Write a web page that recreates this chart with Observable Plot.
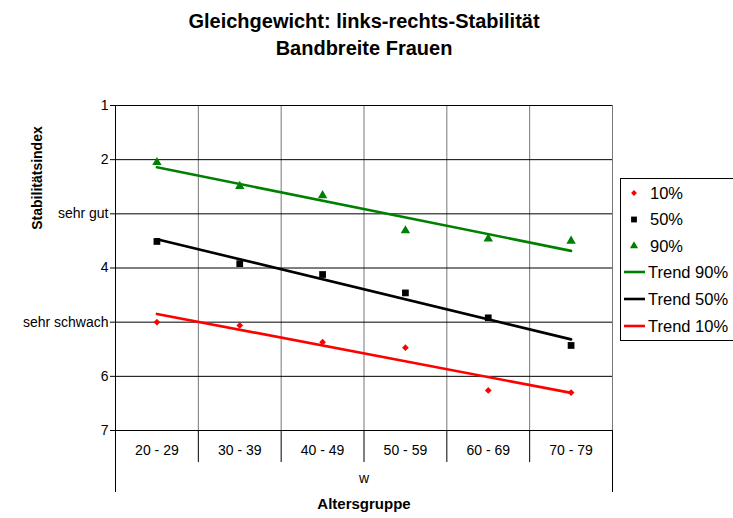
<!DOCTYPE html>
<html>
<head>
<meta charset="utf-8">
<script src="https://cdn.jsdelivr.net/npm/d3@7"></script>
<script src="https://cdn.jsdelivr.net/npm/@observablehq/plot@0.6"></script>
<style>
  html, body { margin: 0; padding: 0; background: #fff; }
</style>
</head>
<body>
<div id="chart"></div>
<script>
// ---- data ----
const ageGroups = ["20 - 29", "30 - 39", "40 - 49", "50 - 59", "60 - 69", "70 - 79"];
const p10 = [5.00, 5.06, 5.37, 5.47, 6.26, 6.30];
const p50 = [3.51, 3.92, 4.12, 4.46, 4.92, 5.43];
const p90 = [2.05, 2.49, 2.66, 3.31, 3.46, 3.50];
const yTickValues = [1, 2, 3, 4, 5, 6, 7];
const yTickLabels = ["1", "2", "sehr gut", "4", "sehr schwach", "6", "7"];
const titleLines = ["Gleichgewicht: links-rechts-Stabilität", "Bandbreite Frauen"];
const yTitle = "Stabilitätsindex";
const xSubLabel = "w";
const xTitle = "Altersgruppe";

// square-ish diamond symbol (equal width and height)
const diamondSym = {
  draw(context, size) {
    const r = Math.sqrt(size / 2);
    context.moveTo(0, -r);
    context.lineTo(r, 0);
    context.lineTo(0, r);
    context.lineTo(-r, 0);
    context.closePath();
  }
};

const seriesDefs = [
  {name: "10%", values: p10, color: "#ff0000", symbol: diamondSym, r: 2.7},
  {name: "50%", values: p50, color: "#000000", symbol: d3.symbolSquare, r: 3.8},
  {name: "90%", values: p90, color: "#008000", symbol: d3.symbolTriangle, r: 3.5}
];
const trendDefs = [
  {name: "Trend 90%", values: p90, color: "#008000"},
  {name: "Trend 50%", values: p50, color: "#000000"},
  {name: "Trend 10%", values: p10, color: "#ff0000"}
];

const rows = s => s.values.map((v, i) => ({i: i + 1, v}));
const centers = ageGroups.map((_, i) => i + 1);
const bounds = d3.range(0, ageGroups.length + 1).map(i => i + 0.5);

const font = "'Liberation Sans', Arial, sans-serif";

const chart = Plot.plot({
  width: 733,
  height: 518,
  marginLeft: 115,
  marginRight: 121,
  marginTop: 105,
  marginBottom: 88,
  style: {fontFamily: font, fontSize: "14px", background: "#fff", color: "#000", overflow: "visible"},
  x: {domain: [0.5, ageGroups.length + 0.5], axis: null, label: null},
  y: {domain: [1, 7], reverse: true, axis: null, label: null},
  marks: [
    Plot.gridX(bounds, {stroke: "#777", strokeOpacity: 1, strokeWidth: 1}),
    Plot.gridY(yTickValues, {stroke: "#000", strokeOpacity: 1, strokeWidth: 1}),
    Plot.axisY(yTickValues, {
      tickSize: 5, tickPadding: 2, fontSize: 14, label: null,
      tickFormat: d => yTickLabels[yTickValues.indexOf(d)]
    }),
    Plot.axisX(centers, {
      tickSize: 0, tickPadding: 15, fontSize: 14, label: null,
      tickFormat: d => ageGroups[d - 1]
    }),
    Plot.axisX(bounds, {tickSize: 32, tickFormat: () => "", label: null}),
    Plot.axisX([bounds[0], bounds[bounds.length - 1]], {tickSize: 62, tickFormat: () => "", label: null}),
    Plot.ruleX([bounds[0]], {stroke: "#000"}),
    Plot.ruleY([7], {stroke: "#000"}),
    ...trendDefs.map(t => Plot.linearRegressionY(rows(t), {x: "i", y: "v", stroke: t.color, strokeWidth: 2.6, ci: 0})),
    ...seriesDefs.map(s => Plot.dot(rows(s), {x: "i", y: "v", symbol: s.symbol, fill: s.color, stroke: "none", r: s.r})),
    Plot.text([titleLines[0]], {text: d => d, frameAnchor: "top", dy: -92, fontWeight: "bold", fontSize: 20, letterSpacing: "-0.6px"}),
    Plot.text([titleLines[1]], {text: d => d, frameAnchor: "top", dy: -65, fontWeight: "bold", fontSize: 20, letterSpacing: "-0.6px"}),
    Plot.text([xSubLabel], {text: d => d, frameAnchor: "bottom", dy: 52, fontSize: 14}),
    Plot.text([xTitle], {text: d => d, frameAnchor: "bottom", dy: 78, fontWeight: "bold", fontSize: 15, letterSpacing: "-0.3px"})
  ]
});

const svg = d3.select(chart);

// ---- y axis title ----
svg.append("text")
  .attr("transform", "translate(37,178) rotate(-90)")
  .attr("text-anchor", "middle").attr("dy", "0.35em")
  .attr("font-family", font).attr("font-size", 14).attr("font-weight", "bold")
  .text(yTitle);

// ---- legend ----
const lg = svg.append("g").attr("font-family", font).attr("font-size", 16.5).attr("text-anchor", "start");
lg.append("rect").attr("x", 620.5).attr("y", 178.5).attr("width", 130).attr("height", 162)
  .attr("fill", "#fff").attr("stroke", "#000");
seriesDefs.forEach((s, k) => {
  const cy = 193 + k * 26.5;
  lg.append("path").attr("transform", `translate(634,${cy})`)
    .attr("d", d3.symbol(s.symbol, Math.PI * s.r * s.r * 0.75)())
    .attr("fill", s.color);
  lg.append("text").attr("x", 650).attr("y", cy).attr("dy", "0.35em").text(s.name);
});
trendDefs.forEach((t, k) => {
  const cy = 272 + k * 27;
  lg.append("line").attr("x1", 624).attr("x2", 645).attr("y1", cy).attr("y2", cy)
    .attr("stroke", t.color).attr("stroke-width", 2.6);
  lg.append("text").attr("x", 648).attr("y", cy).attr("dy", "0.35em").text(t.name);
});

document.getElementById("chart").appendChild(chart);
</script>
</body>
</html>
